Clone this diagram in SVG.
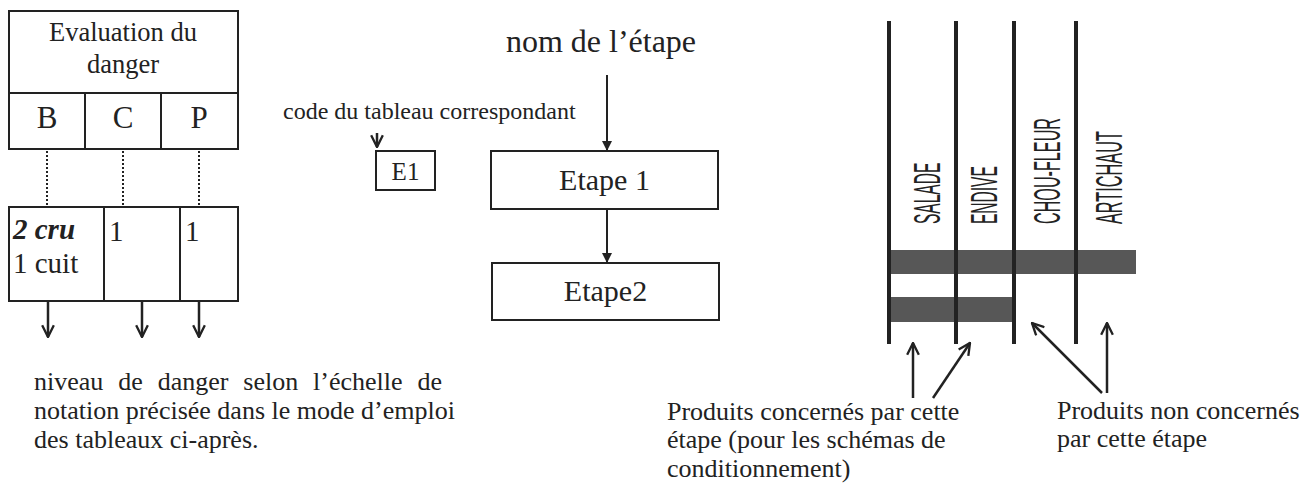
<svg xmlns="http://www.w3.org/2000/svg" width="1303" height="485" viewBox="0 0 1303 485">
<style>
.box{fill:#fff;stroke:#222;stroke-width:2}
.ln{stroke:#222;stroke-width:2;fill:none}
.dot{stroke:#222;stroke-width:2;stroke-dasharray:2 2;fill:none}
.t{font-family:"Liberation Serif","Times New Roman",serif;fill:#222}
.v{font-family:"Liberation Sans",Arial,sans-serif;fill:#222;font-size:37px}
.col{stroke:#222;stroke-width:4}
.bar{fill:#575757}
.arr{stroke:#222;stroke-width:2.5;fill:none}
</style>
<defs>
<marker id="open" viewBox="0 0 12 12" refX="11" refY="6" markerWidth="14" markerHeight="14" markerUnits="userSpaceOnUse" orient="auto">
<path d="M1,1 L11,6 L1,11" fill="none" stroke="#222" stroke-width="2"/>
</marker>
<marker id="fill" viewBox="0 0 10 10" refX="10" refY="5" markerWidth="10" markerHeight="10" markerUnits="userSpaceOnUse" orient="auto">
<path d="M0,0 L10,5 L0,10 z" fill="#222"/>
</marker>
</defs>

<g id="eval-header">
<rect class="box" x="9" y="11" width="229" height="138"/>
<line class="ln" x1="9" y1="93" x2="238" y2="93"/>
<line class="ln" x1="85" y1="93" x2="85" y2="149"/>
<line class="ln" x1="161" y1="93" x2="161" y2="149"/>
<text class="t" x="123" y="41" font-size="26.5" text-anchor="middle">Evaluation du</text>
<text class="t" x="123" y="73" font-size="26.5" text-anchor="middle">danger</text>
<text class="t" x="47" y="128" font-size="31" text-anchor="middle">B</text>
<text class="t" x="123" y="128" font-size="31" text-anchor="middle">C</text>
<text class="t" x="199" y="128" font-size="31" text-anchor="middle">P</text>
</g>

<g id="eval-values">
<rect class="box" x="9" y="207" width="229" height="94"/>
<line class="ln" x1="104" y1="207" x2="104" y2="301"/>
<line class="ln" x1="180" y1="207" x2="180" y2="301"/>
<text class="t" x="13" y="239" font-size="29" font-weight="bold" font-style="italic">2 cru</text>
<text class="t" x="13" y="273" font-size="29">1 cuit</text>
<text class="t" x="109" y="241" font-size="29">1</text>
<text class="t" x="185" y="241" font-size="29">1</text>
</g>

<g id="note-danger">
<text class="t" x="34" y="390" font-size="26" word-spacing="8.4">niveau de danger selon l’échelle de</text>
<text class="t" x="34" y="419" font-size="26">notation précisée dans le mode d’emploi</text>
<text class="t" x="34" y="448" font-size="26">des tableaux ci-après.</text>
</g>

<g id="code-label">
<text class="t" x="283" y="119" font-size="24">code du tableau correspondant</text>
</g>
<g id="e1">
<rect class="box" x="376" y="151" width="59" height="39"/>
<text class="t" x="405.5" y="180" font-size="25" text-anchor="middle">E1</text>
</g>

<g id="nom-etape">
<text class="t" x="601" y="52" font-size="32" text-anchor="middle">nom de l’étape</text>
</g>
<g id="etape1">
<rect class="box" x="491" y="151" width="227" height="58"/>
<text class="t" x="604.5" y="190" font-size="30" text-anchor="middle">Etape 1</text>
</g>
<g id="etape2">
<rect class="box" x="492" y="263" width="227" height="57"/>
<text class="t" x="605.5" y="301" font-size="30" text-anchor="middle">Etape2</text>
</g>

<g id="products">
<rect class="bar" x="889" y="250" width="247" height="24"/>
<rect class="bar" x="889" y="297" width="124" height="25"/>
<line class="col" x1="889" y1="21" x2="889" y2="344"/>
<line class="col" x1="956" y1="21" x2="956" y2="344"/>
<line class="col" x1="1014" y1="21" x2="1014" y2="344"/>
<line class="col" x1="1076" y1="21" x2="1076" y2="344"/>
<text class="v" transform="translate(940,224) rotate(-90) scale(0.42,1)">SALADE</text>
<text class="v" transform="translate(997,224) rotate(-90) scale(0.42,1)">ENDIVE</text>
<text class="v" transform="translate(1060,224) rotate(-90) scale(0.437,1)">CHOU-FLEUR</text>
<text class="v" transform="translate(1122,224) rotate(-90) scale(0.44,1)">ARTICHAUT</text>
</g>

<g id="note-concernes">
<text class="t" x="667" y="420" font-size="26">Produits concernés par cette</text>
<text class="t" x="667" y="448" font-size="26">étape (pour les schémas de</text>
<text class="t" x="667" y="477" font-size="26">conditionnement)</text>
</g>
<g id="note-non-concernes">
<text class="t" x="1057" y="419" font-size="26">Produits non concernés</text>
<text class="t" x="1057" y="447" font-size="26">par cette étape</text>
</g>

<g id="connectors">
<line class="dot" x1="47" y1="151" x2="47" y2="206"/>
<line class="dot" x1="123" y1="151" x2="123" y2="206"/>
<line class="dot" x1="199" y1="151" x2="199" y2="206"/>
<line class="arr" x1="48" y1="301" x2="48" y2="337" marker-end="url(#open)"/>
<line class="arr" x1="142" y1="301" x2="142" y2="337" marker-end="url(#open)"/>
<line class="arr" x1="199" y1="301" x2="199" y2="337" marker-end="url(#open)"/>
<line class="arr" x1="377" y1="133" x2="377" y2="147" marker-end="url(#open)"/>
<line class="ln" x1="607" y1="75" x2="607" y2="151" marker-end="url(#fill)"/>
<line class="ln" x1="607" y1="209" x2="607" y2="263" marker-end="url(#fill)"/>
<line class="arr" x1="913" y1="398" x2="913" y2="343" marker-end="url(#open)"/>
<line class="arr" x1="933" y1="398" x2="970" y2="343" marker-end="url(#open)"/>
<line class="arr" x1="1102" y1="393" x2="1032" y2="323" marker-end="url(#open)"/>
<line class="arr" x1="1107" y1="393" x2="1107" y2="323" marker-end="url(#open)"/>
</g>
</svg>
